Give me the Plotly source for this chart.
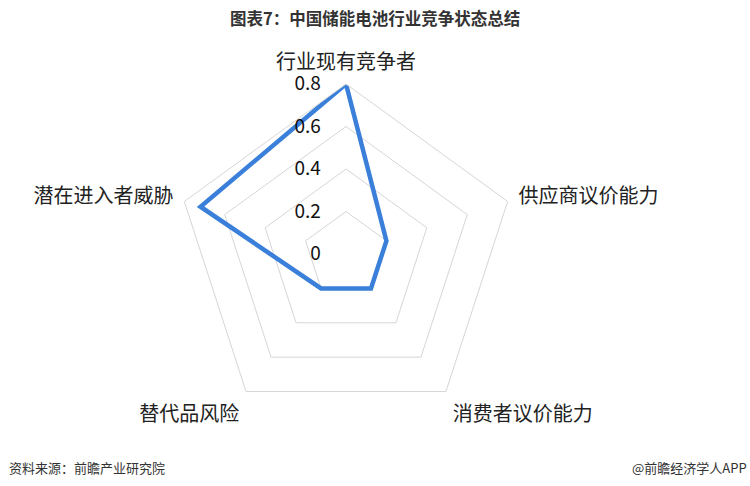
import plotly.graph_objects as go

categories = ["行业现有竞争者", "供应商议价能力", "消费者议价能力", "替代品风险", "潜在进入者威胁"]
values = [0.8, 0.2, 0.2, 0.2, 0.72]
tick_vals = [0, 0.2, 0.4, 0.6, 0.8]
tick_text = ["0", "0.2", "0.4", "0.6", "0.8"]

title_text = "图表7：中国储能电池行业竞争状态总结"
source_text = "资料来源：前瞻产业研究院"
brand_text = "@前瞻经济学人APP"

W, H = 750, 486
cx, cy, R = 346, 254, 170

fig = go.Figure()
fig.add_trace(go.Scatterpolar(
    r=values + values[:1],
    theta=categories + categories[:1],
    mode="lines",
    line=dict(color="#3A7FD9", width=4.5),
    showlegend=False,
    hoverinfo="skip",
))

cjk = "Noto Sans CJK SC"
fig.update_layout(
    width=W, height=H,
    margin=dict(l=0, r=0, t=0, b=0),
    paper_bgcolor="white",
    plot_bgcolor="white",
    polar=dict(
        domain=dict(x=[(cx - R) / W, (cx + R) / W], y=[(H - cy - R) / H, (H - cy + R) / H]),
        bgcolor="white",
        gridshape="linear",
        radialaxis=dict(
            range=[0, 0.8], angle=90, tickangle=90,
            tickvals=tick_vals, ticktext=tick_text,
            showline=False, ticks="outside", ticklen=18, tickcolor="rgba(0,0,0,0)",
            side="counterclockwise",
            gridcolor="#D6D6D6", gridwidth=1,
            tickfont=dict(family=cjk, size=19, color="#111"),
        ),
        angularaxis=dict(
            direction="clockwise", rotation=90,
            showgrid=False, showline=True, linecolor="#D6D6D6", linewidth=1,
            ticks="outside", ticklen=7, tickcolor="rgba(0,0,0,0)",
            tickfont=dict(family=cjk, size=20, color="#222"),
        ),
    ),
    annotations=[
        dict(text="<b>" + title_text + "</b>", x=0.5, y=1 - 18 / H, xref="paper", yref="paper",
             showarrow=False, font=dict(family=cjk, size=16.5, color="#333"), xanchor="center", yanchor="middle"),
        dict(text=source_text, x=7 / W, y=1 - 467 / H, xref="paper", yref="paper",
             showarrow=False, font=dict(family=cjk, size=13, color="#333"), xanchor="left", yanchor="middle"),
        dict(text=brand_text, x=1 - 1 / W, y=1 - 467 / H, xref="paper", yref="paper",
             showarrow=False, font=dict(family=cjk, size=13, color="#333"), xanchor="right", yanchor="middle"),
    ],
)

fig.write_html("out.html", config={"displayModeBar": False},
               post_script="document.body.style.margin='0';")
